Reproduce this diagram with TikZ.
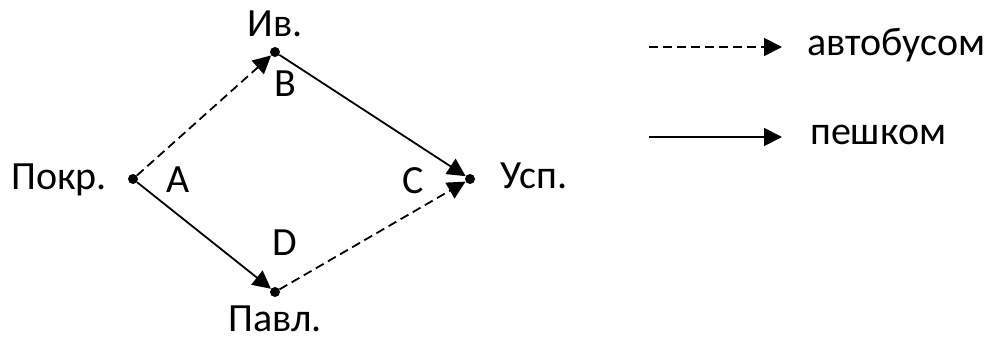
\documentclass[tikz,border=0pt]{standalone}
\usepackage{fontspec}
\setmainfont{Carlito}
\usetikzlibrary{arrows.meta}
\begin{document}
\begin{tikzpicture}[x=1pt,y=-1pt,
  dot/.style={circle,fill=black,inner sep=0pt,minimum size=10pt},
  lbl/.style={font=\fontsize{40}{43}\selectfont,inner sep=0pt},
  link/.style={line width=1.8pt,-{Triangle[length=18pt,width=18pt]}},
  bus/.style={link,dash pattern=on 9pt off 5pt}]
\useasboundingbox (0,0) rectangle (987,339);
\node[dot] (p) at (133,179) {};
\node[dot] (i) at (275,52) {};
\node[dot] (v) at (275,292) {};
\node[dot] (u) at (470,179) {};
\node[lbl] (tp) at (59,180) {Покр.};
\node[lbl] (ti) at (275,24) {Ив.};
\node[lbl] (tv) at (275,319) {Павл.};
\node[lbl] (tu) at (534,176) {Усп.};
\node[lbl] (ta) at (178,180) {A};
\node[lbl] (tb) at (285,84) {B};
\node[lbl] (tc) at (413,181) {C};
\node[lbl] (td) at (285,243) {D};
\draw[bus] (p) -- (i);
\draw[link] (i) -- (u);
\draw[link] (p) -- (v);
\draw[bus] (v) -- (u);
\coordinate (l1a) at (649,47);
\coordinate (l1b) at (782,47);
\coordinate (l2a) at (649,137);
\coordinate (l2b) at (782,137);
\draw[bus] (l1a) -- (l1b);
\draw[link] (l2a) -- (l2b);
\node[lbl,anchor=west] (t1) at (807,45) {автобусом};
\node[lbl,anchor=west] (t2) at (810,135) {пешком};
\end{tikzpicture}
\end{document}
